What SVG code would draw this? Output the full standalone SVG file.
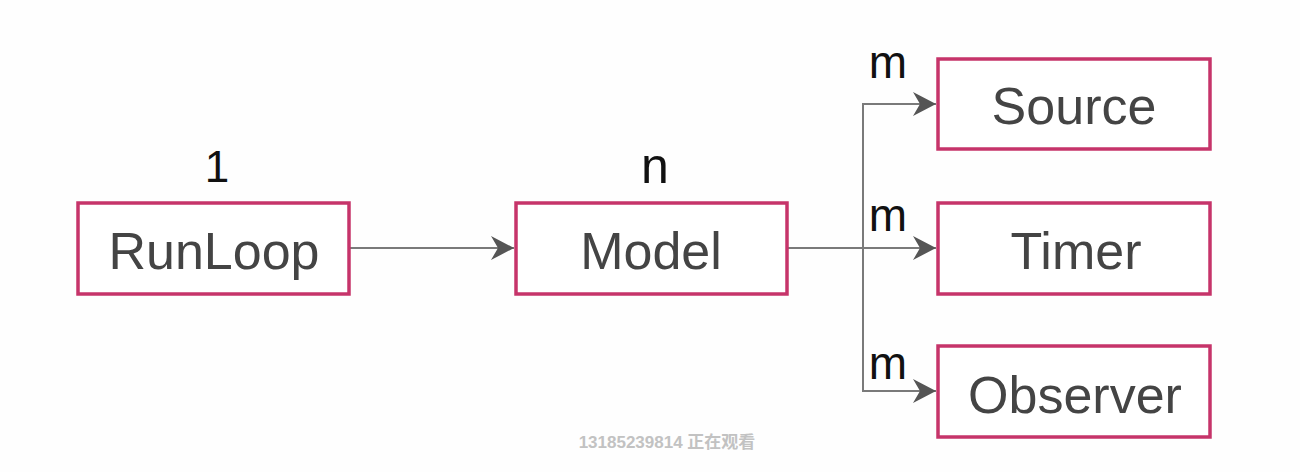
<svg xmlns="http://www.w3.org/2000/svg" width="1300" height="472" viewBox="0 0 1300 472">
<defs>
<style>
.box{fill:#ffffff;stroke:#c6346a;stroke-width:3.5}
.lbl{font-family:"Liberation Sans",Arial,sans-serif;font-size:52px;fill:#444444;text-anchor:middle}
.card{font-family:"Liberation Sans",Arial,sans-serif;fill:#111111;text-anchor:middle}
.edge{fill:none;stroke:#7a7a7a;stroke-width:2}
.wm{font-family:"Liberation Sans","Noto Sans CJK SC",sans-serif;font-size:17px;font-weight:bold;fill:#c2c2c2;text-anchor:middle}
</style>
<marker id="ah" viewBox="0 0 24 24" markerWidth="24" markerHeight="24" refX="23" refY="12" markerUnits="userSpaceOnUse" orient="auto">
<path d="M23,12 L0,0 L7,12 L0,24 Z" fill="#555555"/>
</marker>
</defs>
<rect width="1300" height="472" fill="#fefefe"/>
<g id="connectors">
<line class="edge" x1="350" y1="248" x2="514" y2="248" marker-end="url(#ah)"/>
<line class="edge" x1="788" y1="248" x2="936" y2="248" marker-end="url(#ah)"/>
<polyline class="edge" points="936,104 863,104 863,391 936,391"/>
<line class="edge" x1="863" y1="104" x2="936" y2="104" marker-end="url(#ah)"/>
<line class="edge" x1="863" y1="391" x2="936" y2="391" marker-end="url(#ah)"/>
</g>
<g id="runloop">
<rect class="box" x="78" y="203" width="271" height="91"/>
<text class="lbl" x="214" y="269">RunLoop</text>
<text class="card" x="217" y="182" font-size="44">1</text>
</g>
<g id="model">
<rect class="box" x="516" y="203" width="271" height="91"/>
<text class="lbl" x="651" y="269">Model</text>
<text class="card" x="655" y="183" font-size="50">n</text>
</g>
<g id="source">
<rect class="box" x="938" y="59" width="272" height="90"/>
<text class="lbl" x="1074" y="124">Source</text>
<text class="card" x="888" y="78" font-size="46">m</text>
</g>
<g id="timer">
<rect class="box" x="938" y="203" width="272" height="91"/>
<text class="lbl" x="1076" y="269">Timer</text>
<text class="card" x="888" y="231" font-size="46">m</text>
</g>
<g id="observer">
<rect class="box" x="938" y="346" width="272" height="91"/>
<text class="lbl" x="1075" y="413">Observer</text>
<text class="card" x="888" y="379" font-size="46">m</text>
</g>
<text class="wm" x="667" y="448">13185239814 正在观看</text>
</svg>
